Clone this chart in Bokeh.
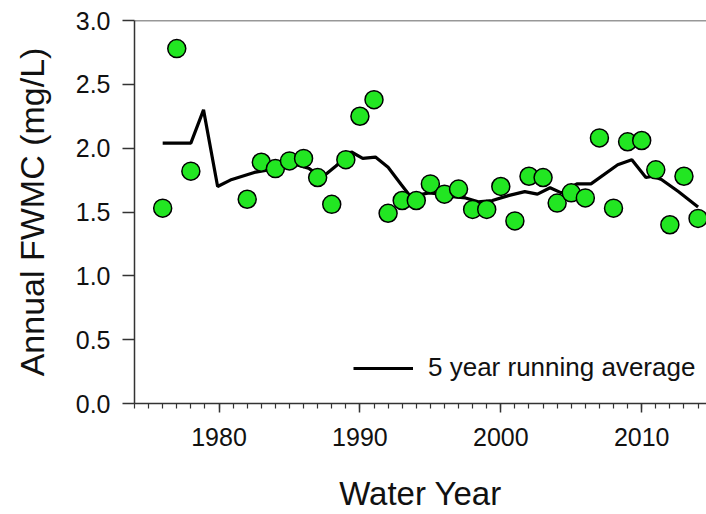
from bokeh.plotting import figure
from bokeh.models import FixedTicker, NumeralTickFormatter, Span, Legend, LegendItem, Range1d
from bokeh.embed import file_html
from bokeh.resources import INLINE

# Annual flow-weighted mean concentration (mg/L)
years = [1976, 1977, 1978, 1982, 1983, 1984, 1985, 1986, 1987, 1988, 1989, 1990,
         1991, 1992, 1993, 1994, 1995, 1996, 1997, 1998, 1999, 2000, 2001, 2002,
         2003, 2004, 2005, 2006, 2007, 2008, 2009, 2010, 2011, 2012, 2013, 2014]
fwmc = [1.53, 2.78, 1.82, 1.60, 1.89, 1.84, 1.90, 1.92, 1.77, 1.56, 1.91, 2.25,
        2.38, 1.49, 1.59, 1.59, 1.72, 1.64, 1.68, 1.52, 1.52, 1.70, 1.43, 1.78,
        1.77, 1.57, 1.65, 1.61, 2.08, 1.53, 2.05, 2.06, 1.83, 1.40, 1.78, 1.45]

# 5 year running average (as drawn)
avg_years = [1976.0, 1978.0, 1978.9, 1979.9, 1980.8, 1982.5, 1983.5, 1984.5, 1985.5,
             1986.4, 1987.3, 1988.3, 1989.4, 1990.2, 1991.1, 1992.0, 1992.9, 1993.6,
             1994.9, 1995.8, 1996.6, 1997.5, 1998.4, 1999.4, 2000.6, 2001.7, 2002.6,
             2003.5, 2004.3, 2005.4, 2006.4, 2008.3, 2009.3, 2010.3, 2010.8, 2011.4,
             2012.6, 2014.0]
avg_vals = [2.04, 2.04, 2.30, 1.70, 1.75, 1.81, 1.83, 1.85, 1.87,
            1.84, 1.77, 1.86, 1.97, 1.92, 1.93, 1.85, 1.72, 1.62,
            1.65, 1.64, 1.62, 1.61, 1.58, 1.59, 1.63, 1.66, 1.64,
            1.69, 1.65, 1.72, 1.72, 1.87, 1.91, 1.77, 1.78, 1.755,
            1.66, 1.54]

x_major = [1980, 1990, 2000, 2010]
x_minor = list(range(1974, 2016))
y_ticks = [0.0, 0.5, 1.0, 1.5, 2.0, 2.5, 3.0]

FONT = "Liberation Sans"
TXT = "#111111"
AX = "#333333"

p = figure(width=706, height=514, output_backend="svg", toolbar_location=None,
           x_range=Range1d(1974, 2014.6), y_range=Range1d(0, 3.0),
           min_border_left=134, min_border_right=0, min_border_top=20,
           min_border_bottom=110)
p.outline_line_color = None
p.xgrid.grid_line_color = None
p.ygrid.grid_line_color = None
p.background_fill_color = "white"
p.border_fill_color = "white"

line = p.line(avg_years, avg_vals, line_color="black", line_width=3.2)
p.scatter(years, fwmc, size=18, fill_color="#22E622", line_color="black",
          line_width=1.5)

top = Span(location=3.0, dimension="width", line_color=AX, line_width=1.5)
p.add_layout(top)

xa = p.xaxis[0]
xa.ticker = FixedTicker(ticks=x_major, minor_ticks=x_minor)
xa.axis_label = "Water Year"
xa.axis_label_text_font = FONT
xa.axis_label_text_font_size = "33px"
xa.axis_label_text_font_style = "normal"
xa.axis_label_text_color = TXT
xa.axis_label_standoff = 26
xa.major_label_text_font = FONT
xa.major_label_text_font_size = "25px"
xa.major_label_text_color = TXT
xa.major_label_standoff = 15
xa.major_tick_out = 9
xa.major_tick_in = 0
xa.minor_tick_out = 5
xa.minor_tick_in = 0
xa.axis_line_color = AX
xa.axis_line_width = 1.5
xa.major_tick_line_color = AX
xa.major_tick_line_width = 1.5
xa.minor_tick_line_color = AX
xa.minor_tick_line_width = 1.2

ya = p.yaxis[0]
ya.ticker = FixedTicker(ticks=y_ticks, minor_ticks=[])
ya.formatter = NumeralTickFormatter(format="0.0")
ya.axis_label = "Annual FWMC (mg/L)"
ya.axis_label_text_font = FONT
ya.axis_label_text_font_size = "34px"
ya.axis_label_text_font_style = "normal"
ya.axis_label_text_color = TXT
ya.axis_label_standoff = 22
ya.major_label_text_font = FONT
ya.major_label_text_font_size = "25px"
ya.major_label_text_color = TXT
ya.major_label_standoff = 12
ya.major_tick_out = 12
ya.major_tick_in = 0
ya.axis_line_color = AX
ya.axis_line_width = 1.5
ya.major_tick_line_color = AX
ya.major_tick_line_width = 1.5

legend = Legend(items=[LegendItem(label="5 year running average", renderers=[line])],
                location=(219, 20))
legend.border_line_color = None
legend.background_fill_alpha = 0
legend.label_text_font = FONT
legend.label_text_font_size = "26px"
legend.label_text_color = TXT
legend.glyph_width = 60
legend.glyph_height = 26
legend.label_standoff = 15
legend.padding = 0
legend.margin = 0
p.add_layout(legend)

open("out.html", "w").write(file_html(p, INLINE))
